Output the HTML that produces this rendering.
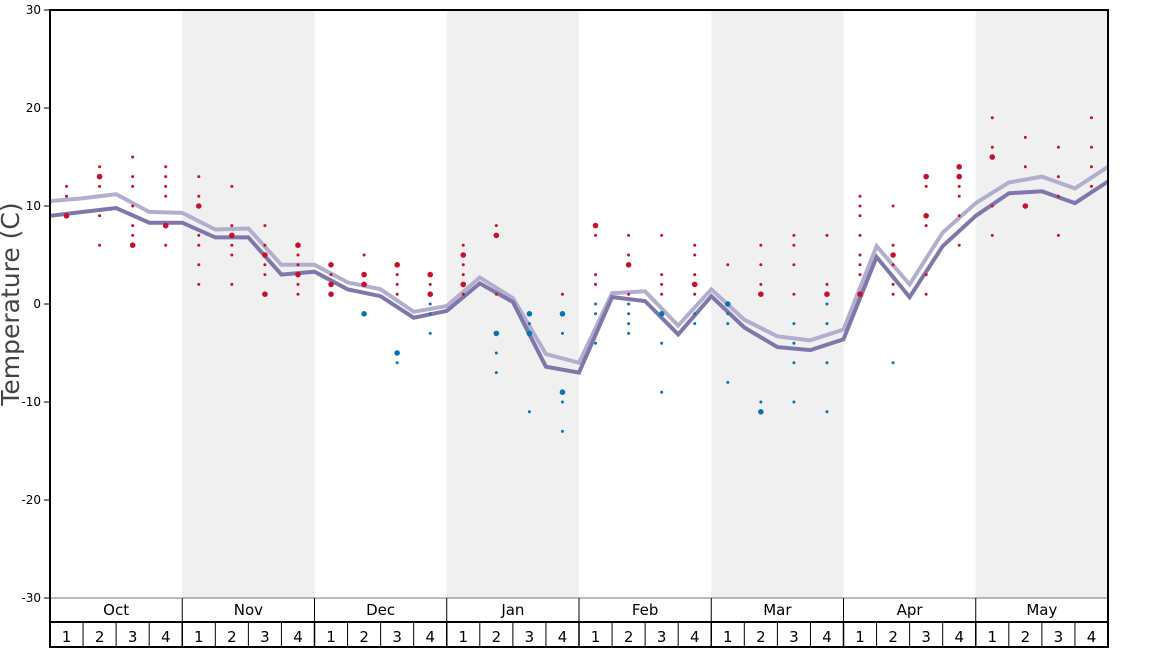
<!DOCTYPE html><html><head><style>body{margin:0;background:#fff}svg{display:block;font-family:"DejaVu Sans","Liberation Sans",sans-serif}</style></head><body>
<svg id="s" width="1168" height="648" xmlns="http://www.w3.org/2000/svg"></svg>
<script>
const s=document.getElementById('s');let h='';
const X0=50,X1=1108,W=(X1-X0)/32,Y=v=>304-v*9.8;
[1,3,5,7].forEach(m=>{h+=`<rect x="${X0+m*4*W}" y="10" width="${4*W}" height="588" fill="#f0f0f0"/>`});
for(let v=-30;v<=30;v+=10){h+=`<line x1="44" x2="50" y1="${Y(v)}" y2="${Y(v)}" stroke="#000"/><text x="41" y="${Y(v)+4}" font-size="12" text-anchor="end">${v}</text>`}
h+=`<text transform="translate(19,304) rotate(-90)" font-size="25" fill="#444" text-anchor="middle">Temperature (C)</text>`;
const dk=[9.0,9.4,9.8,8.3,8.3,6.8,6.8,3.0,3.3,1.5,0.8,-1.4,-0.7,2.1,0.2,-6.4,-7.0,0.7,0.3,-3.1,0.8,-2.4,-4.4,-4.7,-3.6,4.8,0.7,5.9,9.0,11.3,11.5,10.3,12.5];
const lt=[10.5,10.8,11.2,9.4,9.3,7.6,7.7,4.0,4.0,2.2,1.5,-0.8,-0.2,2.7,0.6,-5.1,-6.0,1.1,1.3,-2.2,1.5,-1.6,-3.3,-3.7,-2.6,5.9,2.0,7.3,10.3,12.4,13.0,11.8,14.0];
const pl=a=>a.map((v,i)=>(X0+i*W).toFixed(1)+','+Y(v).toFixed(1)).join(' ');
h+=`<polyline points="${pl(lt)}" fill="none" stroke="#b3aed0" stroke-width="4"/>`;
h+=`<polyline points="${pl(dk)}" fill="none" stroke="#7f77ab" stroke-width="4"/>`;
const d=["12,11,9b","14,13b,12,9,6","15,13,12,10,8,7,6b","14,13,12,11,8b,6","13,11,10b,7,6,4,2","12,8,7b,6,5,2","8,6,5b,4,3,1b","6b,5,4,3b,2,1","4b,3,2b,1b","5,3b,2b,-1b","4b,3,2,1,-5b,-6","3b,2,1b,0,-1,-3","6,5b,4,3,2b,1","8,7b,1,-3b,-5,-7","-1b,-2,-3b,-11","1,-1b,-3,-9b,-10,-13","8b,7,3,2,0,-1,-4","7,5,4b,1,0,-1,-2,-3","7,3,2,1,-1b,-4,-9","6,5,3,2b,1,-1,-2","4,0b,-1,-2,-8","6,4,2,1b,-10,-11b","7,6,4,1,-2,-4,-6,-10","7,2,1b,0,-2,-6,-11","11,10,9,7,5,4,3,1b","10,6,5b,4,2,1,-6","13b,12,9b,8,3,1","14b,13b,12,11,9,6","19,16,15b,10,7","17,14,10b","16,13,11,7","19,16,14,12"];
d.forEach((c,i)=>c.split(',').forEach(t=>{const b=t.endsWith('b'),v=parseFloat(t);h+=`<circle cx="${X0+(i+.5)*W}" cy="${Y(v)}" r="${b?2.8:1.5}" fill="${v>0?'#c8102e':'#0a72b0'}"/>`}));
h+=`<line x1="50" x2="1108" y1="598" y2="598" stroke="#777"/>`;
const M=['Oct','Nov','Dec','Jan','Feb','Mar','Apr','May'];
M.forEach((m,i)=>{const x=X0+i*4*W;h+=`<line x1="${x}" x2="${x}" y1="598" y2="622" stroke="#000"/><text x="${x+2*W}" y="615" font-size="15" text-anchor="middle">${m}</text>`;for(let k=0;k<4;k++){const wx=x+k*W;h+=`<line x1="${wx}" x2="${wx}" y1="622" y2="648" stroke="#000" stroke-width="${k?1:1.5}"/><text x="${wx+W/2}" y="642" font-size="15" text-anchor="middle">${k+1}</text>`}});
h+=`<line x1="50" x2="1108" y1="622" y2="622" stroke="#000" stroke-width="2"/><line x1="50" x2="1108" y1="647" y2="647" stroke="#000" stroke-width="2"/>`;
h+=`<rect x="50" y="10" width="1058" height="638" fill="none" stroke="#000" stroke-width="2"/>`;
s.innerHTML=h;
</script></body></html>
